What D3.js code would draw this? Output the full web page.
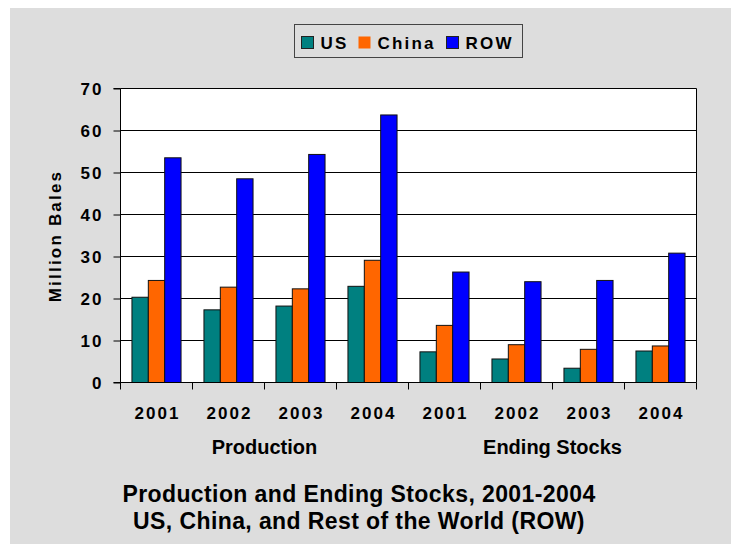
<!DOCTYPE html>
<html>
<head>
<meta charset="utf-8">
<script src="https://cdn.jsdelivr.net/npm/d3@7"></script>
<style>
  html, body { margin: 0; padding: 0; background: #ffffff; }
  svg { display: block; }
  text { font-family: Arial, "Liberation Sans", sans-serif; font-weight: bold; fill: #000; }
</style>
</head>
<body>
<svg id="chart" width="731" height="544"></svg>
<script>
// ---- data ----
const years = ["2001", "2002", "2003", "2004"];
const groups = ["Production", "Ending Stocks"];
const seriesNames = ["US", "China", "ROW"];
const usValues    = [20.3, 17.3, 18.2, 22.9, 7.3, 5.6, 3.4, 7.5];
const chinaValues = [24.3, 22.7, 22.3, 29.1, 13.6, 9.0, 7.9, 8.7];
const rowValues   = [53.5, 48.5, 54.3, 63.7, 26.3, 24.0, 24.3, 30.8];
const yTicks = [0, 10, 20, 30, 40, 50, 60, 70];
const colors = ["#008080", "#ff6600", "#0000ff"];
const yTitle = "Million Bales";
const titleLines = ["Production and Ending Stocks, 2001-2004", "US, China, and Rest of the World (ROW)"];

// ---- layout ----
const svg = d3.select("#chart");
svg.append("rect").attr("x", 10).attr("y", 8).attr("width", 721).attr("height", 536).attr("fill", "#dddddd");

const pLeft = 120.5, pRight = 696.5, pTop = 88.5, pBottom = 382.5;

const categories = [];
groups.forEach(g => years.forEach(yr => categories.push(g + "|" + yr)));
const seriesVals = [usValues, chinaValues, rowValues];
const rows = categories.map((c, i) => ({
  key: c, group: c.split("|")[0], year: c.split("|")[1],
  values: seriesNames.map((s, j) => ({ name: s, value: seriesVals[j][i], color: colors[j] }))
}));

const x = d3.scaleBand().domain(categories).range([pLeft, pRight]).paddingInner(0).paddingOuter(0);
const xs = d3.scaleBand().domain(seriesNames).range([0, x.bandwidth()]).paddingInner(0).paddingOuter(0.7);
const y = d3.scaleLinear().domain([0, 70]).range([pBottom, pTop]);

// plot background
svg.append("rect").attr("x", pLeft).attr("y", pTop).attr("width", pRight - pLeft).attr("height", pBottom - pTop).attr("fill", "#ffffff");

// grid lines
svg.append("g").selectAll("line").data(yTicks.filter(d => d > 0)).join("line")
  .attr("x1", pLeft).attr("x2", pRight).attr("y1", d => y(d)).attr("y2", d => y(d))
  .attr("stroke", "#000").attr("stroke-width", 1);

// right border
svg.append("line").attr("x1", pRight).attr("x2", pRight).attr("y1", pTop).attr("y2", pBottom).attr("stroke", "#000");

// bars
const gBars = svg.append("g");
rows.forEach(r => {
  gBars.selectAll(null).data(r.values).join("rect")
    .attr("x", d => x(r.key) + xs(d.name))
    .attr("y", d => y(d.value))
    .attr("width", xs.bandwidth())
    .attr("height", d => y(0) - y(d.value))
    .attr("fill", d => d.color)
    .attr("stroke", "#111")
    .attr("stroke-width", 1);
});

// y axis
const yAxis = d3.axisLeft(y).tickValues(yTicks).tickSize(7).tickPadding(5).tickFormat(d3.format("d"));
const gy = svg.append("g").attr("transform", `translate(${pLeft},0)`).call(yAxis);
gy.select(".domain").attr("stroke", "#000").attr("d", `M-7,${pTop}H0V${pBottom}`);
gy.selectAll(".tick line").attr("stroke", "#000");
gy.selectAll(".tick text")
  .style("font-family", "Arial, 'Liberation Sans', sans-serif")
  .style("font-weight", "bold").style("font-size", "17px").style("letter-spacing", "2px")
  .attr("x", -17).attr("dy", "0.36em").attr("fill", "#000");

// x axis (boundary ticks)
const boundaries = categories.map(c => x(c)).concat([pRight]);
const gx = svg.append("g");
gx.append("line").attr("x1", pLeft - 7).attr("x2", pRight).attr("y1", pBottom).attr("y2", pBottom).attr("stroke", "#000");
gx.selectAll("line.t").data(boundaries).join("line").attr("class", "t")
  .attr("x1", d => d).attr("x2", d => d).attr("y1", pBottom).attr("y2", pBottom + 7).attr("stroke", "#000");

// year labels
svg.append("g").selectAll("text").data(rows).join("text")
  .attr("x", d => x(d.key) + x.bandwidth() / 2 + 1)
  .attr("y", 419)
  .attr("text-anchor", "middle")
  .style("font-size", "17px").style("letter-spacing", "2px")
  .text(d => d.year);

// group labels
svg.append("g").selectAll("text").data(groups).join("text")
  .attr("x", g => (x(g + "|" + years[0]) + x(g + "|" + years[years.length - 1]) + x.bandwidth()) / 2)
  .attr("y", 454)
  .attr("text-anchor", "middle")
  .style("font-size", "20px")
  .text(d => d);

// y title
svg.append("text")
  .attr("transform", "translate(60.5,236) rotate(-90)")
  .attr("text-anchor", "middle")
  .style("font-size", "17px").style("letter-spacing", "2.2px")
  .text(yTitle);

// title
svg.append("g").selectAll("text").data(titleLines).join("text")
  .attr("x", 359).attr("y", (d, i) => 502 + i * 26.5)
  .attr("text-anchor", "middle")
  .style("font-size", "23px").style("letter-spacing", "0.4px")
  .text(d => d);

// legend
const lg = svg.append("g");
lg.append("rect").attr("x", 294.5).attr("y", 24.5).attr("width", 228).attr("height", 33)
  .attr("fill", "#dddddd").attr("stroke", "#444").attr("stroke-width", 1);
const legendX = [301, 358, 446];
seriesNames.forEach((s, i) => {
  lg.append("rect").attr("x", legendX[i] + 0.5).attr("y", 36.5).attr("width", 12).attr("height", 12)
    .attr("fill", colors[i]).attr("stroke", i === 1 ? "none" : "#222").attr("stroke-width", 1);
  lg.append("text").attr("x", legendX[i] + 19.5).attr("y", 48.5)
    .style("font-size", "17px").style("letter-spacing", "2.2px")
    .text(s);
});
</script>
</body>
</html>
